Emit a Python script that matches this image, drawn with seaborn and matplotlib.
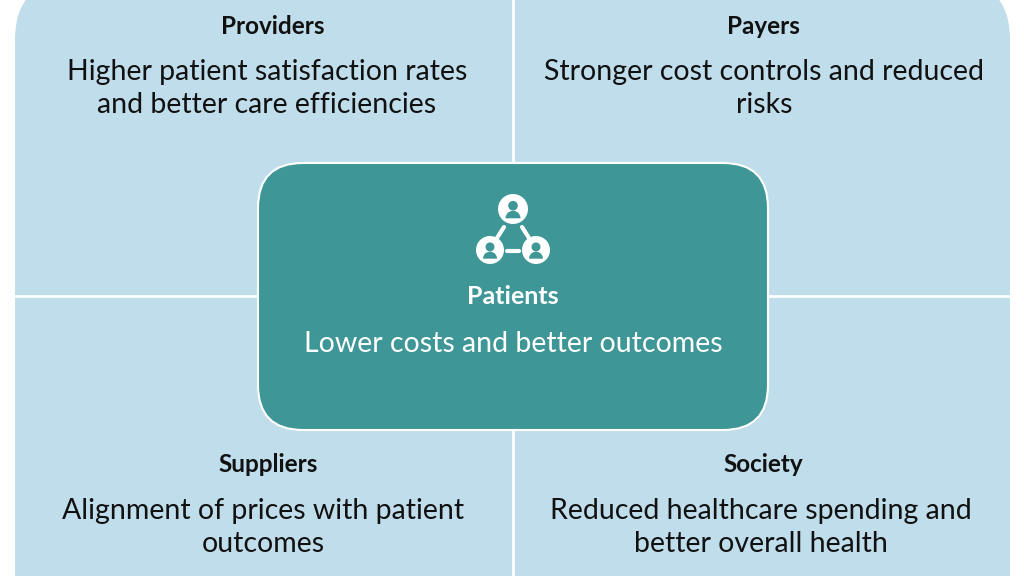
import matplotlib
matplotlib.use("Agg")
import matplotlib.pyplot as plt
from matplotlib.patches import FancyBboxPatch, Circle, Wedge
import seaborn as sns

sns.set_theme(style="white")
plt.rcParams['font.family'] = ['Lato', 'DejaVu Sans']

# quadrant content
titles = ["Providers", "Payers", "Suppliers", "Society"]
bodies = ["Higher patient satisfaction rates\nand better care efficiencies",
          "Stronger cost controls and reduced\nrisks",
          "Alignment of prices with patient\noutcomes",
          "Reduced healthcare spending and\nbetter overall health"]
center_title = "Patients"
center_body = "Lower costs and better outcomes"

light = "#C0DDEB"
teal = "#3F9696"

fig = plt.figure(figsize=(10.24, 5.76), dpi=100)
ax = fig.add_axes([0, 0, 1, 1])
ax.set_xlim(0, 1024)
ax.set_ylim(576, 0)
ax.axis("off")

# outer rounded background
ax.add_patch(FancyBboxPatch((15, -20), 995, 660, boxstyle="round,pad=0,rounding_size=60",
                            fc=light, ec="none", zorder=1))
ax.plot([513, 513], [-20, 600], color="white", lw=2, zorder=2)
ax.plot([0, 1024], [296, 296], color="white", lw=2, zorder=2)

# quadrant texts
tpos = [(273, 26), (763, 26), (268, 465), (763, 465)]
bpos = [(267, 59), (764, 59), (263, 498), (761, 498)]
for t, b, (tx, ty), (bx, by) in zip(titles, bodies, tpos, bpos):
    ax.text(tx, ty, t, ha="center", va="center", fontsize=17.5, fontweight="bold", color="#111111", zorder=3)
    ax.text(bx, by, b, ha="center", va="top", fontsize=20.5, color="#111111", linespacing=1.32, zorder=3)

# center box
ax.add_patch(FancyBboxPatch((258, 163), 510, 267, boxstyle="round,pad=0,rounding_size=45",
                            fc=teal, ec="white", lw=1.5, zorder=4))
ax.text(513, 297, center_title, ha="center", va="center", fontsize=18, fontweight="bold", color="white", zorder=5)
ax.text(513, 344, center_body, ha="center", va="center", fontsize=20.5, color="white", zorder=5)

# icon: three people connected
people = [(513, 209, 15), (490, 250, 14), (536, 250, 14)]
ax.plot([504, 497], [227, 238], color="white", lw=3, zorder=5)
ax.plot([522, 529], [227, 238], color="white", lw=3, zorder=5)
ax.plot([507, 519], [251, 251], color="white", lw=3, zorder=5)
for cx, cy, r in people:
    ax.add_patch(Circle((cx, cy), r, fc="white", ec="none", zorder=6))
    ax.add_patch(Circle((cx, cy - r * 0.22), r * 0.32, fc=teal, ec="none", zorder=7))
    ax.add_patch(Wedge((cx, cy + r * 0.62), r * 0.5, 180, 360, fc=teal, ec="none", zorder=7))

fig.savefig("out.png", dpi=100)
